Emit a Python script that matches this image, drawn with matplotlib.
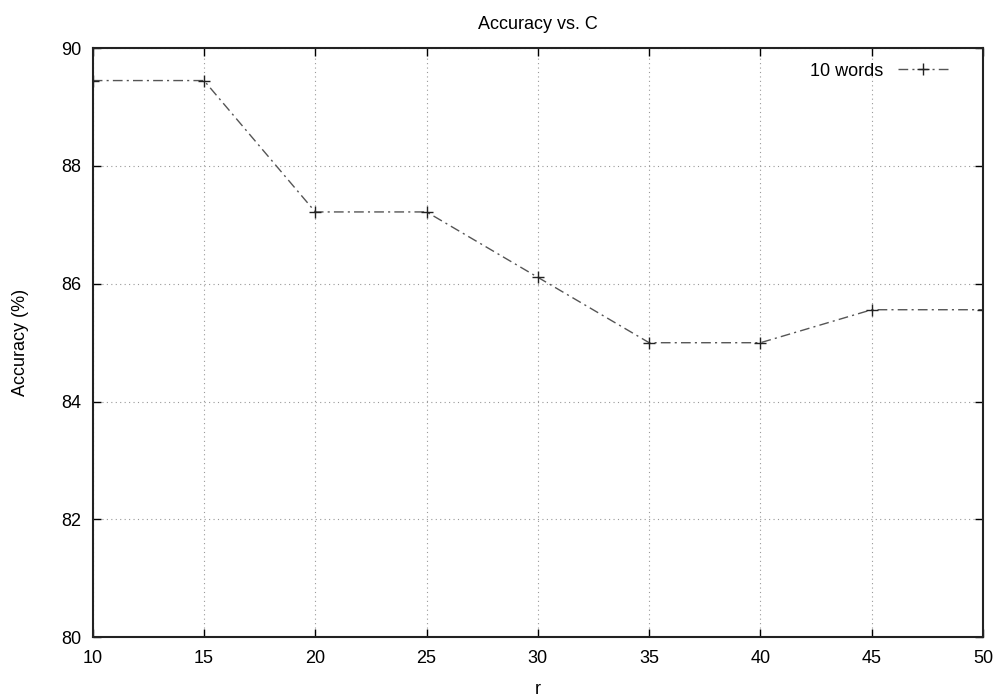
import matplotlib
matplotlib.use("Agg")
import matplotlib.pyplot as plt

r_values = [10, 15, 20, 25, 30, 35, 40, 45, 50]
accuracy = [89.45, 89.45, 87.22, 87.22, 86.11, 85.0, 85.0, 85.56, 85.56]
x_ticks = [10, 15, 20, 25, 30, 35, 40, 45, 50]
y_ticks = [80, 82, 84, 86, 88, 90]

plt.rcParams['font.family'] = ['Liberation Sans', 'DejaVu Sans']
plt.rcParams['font.size'] = 13

fig = plt.figure(figsize=(9.97, 6.98), dpi=100)
ax = fig.add_axes([0.093, 0.087, 0.893, 0.844])

ax.plot(r_values, accuracy, linestyle=(0, (7, 3, 1.5, 3)), color='#555555',
        linewidth=1.0, marker='+', markersize=8, markeredgewidth=1.0,
        markeredgecolor='#222222', label='10 words')

ax.set_xlim(10, 50)
ax.set_ylim(80, 90)
ax.set_xticks(x_ticks)
ax.set_yticks(y_ticks)
ax.grid(True, linestyle=(0, (1, 3)), color='#999999', linewidth=0.8)
ax.tick_params(direction='in', top=True, right=True, length=6, width=1, pad=8)
ax.tick_params(axis='x', pad=9)
for s in ax.spines.values():
    s.set_linewidth(1.5)
    s.set_color('#222222')

ax.set_title('Accuracy vs. C', fontsize=13, pad=14)
ax.set_xlabel('r', labelpad=10)
ax.set_ylabel('Accuracy (%)', labelpad=23)

leg = ax.legend(loc='upper right', bbox_to_anchor=(0.977, 1.0), frameon=False,
                markerfirst=False, handlelength=2.8, borderaxespad=0.4)

fig.savefig('out.png', dpi=100)
